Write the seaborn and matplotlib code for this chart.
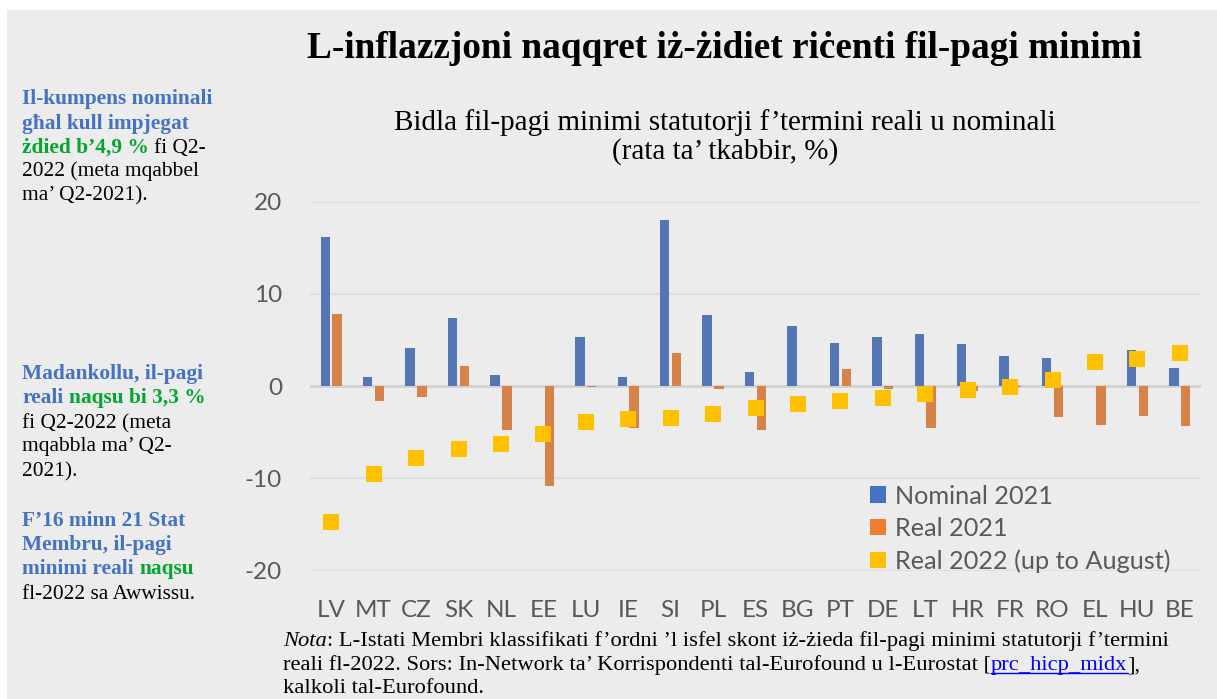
#!/usr/bin/env python3
"""
Minimum wage growth chart (nominal vs real), Maltese version
"""

import numpy as np
import pandas as pd
import matplotlib
matplotlib.use('Agg')
import matplotlib.pyplot as plt
from matplotlib.patches import Patch, Rectangle
from matplotlib.lines import Line2D
import seaborn as sns

# data
countries = ['LV', 'MT', 'CZ', 'SK', 'NL', 'EE', 'LU', 'IE', 'SI', 'PL', 'ES',
             'BG', 'PT', 'DE', 'LT', 'HR', 'FR', 'RO', 'EL', 'HU', 'BE']
nominal_2021 = [16.2, 1.0, 4.1, 7.4, 1.2, 0.0, 5.3, 1.0, 18.0, 7.7, 1.5,
                6.5, 4.7, 5.3, 5.7, 4.6, 3.3, 3.1, 0.0, 3.9, 2.0]
real_2021 = [7.8, -1.6, -1.2, 2.2, -4.8, -10.8, -0.1, -4.5, 3.6, -0.3, -4.7,
             0.0, 1.9, -0.3, -4.5, -0.5, -0.1, -3.3, -4.2, -3.2, -4.3]
real_2022 = [-14.7, -9.5, -7.8, -6.8, -6.3, -5.2, -3.9, -3.6, -3.4, -3.0, -2.4,
             -1.9, -1.6, -1.3, -0.8, -0.4, -0.1, 0.7, 2.6, 2.9, 3.6]
series_names = ['Nominal 2021', 'Real 2021', 'Real 2022 (up to August)']
y_ticks = [-20, -10, 0, 10, 20]

BLUE = '#4472C4'
ORANGE = '#ED7D31'
YELLOW = '#FFC000'
GREEN = '#00A82D'
BG = '#ECECEC'
TICK_GREY = '#595959'

W, H = 1217, 699
SERIF = 'Liberation Serif'
SANS = 'Lato'

sns.set_style('white')
plt.rcParams['axes.unicode_minus'] = False
plt.rcParams['text.color'] = 'black'
plt.rcParams['font.family'] = [SANS, 'DejaVu Sans']

fig = plt.figure(figsize=(W / 100, H / 100), dpi=100, facecolor='white')
# grey panel with the white margin on left/top
fig.patches.append(Rectangle((7 / W, 0), 1, 1 - 10 / H, transform=fig.transFigure,
                             facecolor=BG, edgecolor='none', zorder=-10))


def px(x, y):
    """pixel coords (origin top-left) -> figure fraction"""
    return x / W, 1 - y / H


ax_left, ax_right, ax_top, ax_bot = 310, 1201, 201.7, 570.7
ax = fig.add_axes([ax_left / W, 1 - ax_bot / H, (ax_right - ax_left) / W, (ax_bot - ax_top) / H])
ax.set_facecolor(BG)

bars = pd.DataFrame({
    'country': countries * 2,
    'value': nominal_2021 + real_2021,
    'series': [series_names[0]] * len(countries) + [series_names[1]] * len(countries),
})

sns.barplot(data=bars, x='country', y='value', hue='series', order=countries,
            hue_order=series_names[:2], palette=[BLUE, ORANGE], width=0.56, gap=0.2,
            errorbar=None, legend=False, linewidth=0, ax=ax, zorder=2)
sns.stripplot(x=countries, y=real_2022, order=countries, jitter=False, marker='s',
              size=11.5, color=YELLOW, linewidth=0, ax=ax, zorder=4)

ax.set_xlim(-0.5, len(countries) - 0.5)
ax.set_ylim(-20, 20)
ax.set_yticks(y_ticks)
ax.set_yticklabels([str(t) for t in y_ticks])
ax.set_xlabel('')
ax.set_ylabel('')
ax.grid(axis='y', color='#DEDEDE', linewidth=1.5)
ax.grid(axis='x', visible=False)
ax.set_axisbelow(True)
ax.axhline(0, color='#D2D2D2', linewidth=2, zorder=1)
for s in ax.spines.values():
    s.set_visible(False)
ax.tick_params(axis='both', length=0, labelsize=17.5, labelcolor=TICK_GREY)
ax.tick_params(axis='y', pad=20)
ax.tick_params(axis='x', pad=21)

handles = [Patch(facecolor=BLUE, edgecolor='none'),
           Patch(facecolor=ORANGE, edgecolor='none'),
           Line2D([], [], marker='s', linestyle='none', markersize=11.5,
                  markerfacecolor=YELLOW, markeredgewidth=0)]
leg = ax.legend(handles, series_names, loc='upper left', bbox_to_anchor=(0.628, 0.233),
                frameon=False, fontsize=18.2, labelcolor=TICK_GREY, handlelength=0.65,
                handleheight=0.65, handletextpad=0.35, labelspacing=0.36,
                borderpad=0, borderaxespad=0)

# titles
fig.text(*px(725, 49), 'L-inflazzjoni naqqret iż-żidiet riċenti fil-pagi minimi',
         family=SERIF, fontsize=26.8, fontweight='bold', ha='center', va='center',
         color='black')
fig.text(*px(725, 137), 'Bidla fil-pagi minimi statutorji f’termini reali u nominali\n'
         '(rata ta’ tkabbir, %)', family=SERIF, fontsize=21, ha='center', va='center',
         linespacing=1.1, color='black')

renderer = fig.canvas.get_renderer()


def text_width(s, **kw):
    t = fig.text(0, 0, s, **kw)
    w = t.get_window_extent(renderer).width
    t.remove()
    return w


def draw_runs(x, y, runs, size, family=SERIF):
    """draw one line made of (text, color, weight, style) pieces, y is baseline in px"""
    space = text_width('x x', family=family, fontsize=size) - text_width('xx', family=family, fontsize=size)
    cur = x
    out = []
    for s, color, weight, style in runs:
        lead = s.startswith(' ')
        s = s.strip(' ')
        if lead:
            cur += space
        t = fig.text(*px(cur, y), s, color=color, fontweight=weight, fontstyle=style,
                     family=family, fontsize=size, va='baseline')
        bb = t.get_window_extent(renderer)
        out.append((t, cur, cur + bb.width))
        cur += bb.width
    return out


side_size = 15.4
B, N = 'bold', 'normal'
side_lines = [
    (104, [('Il-kumpens nominali', BLUE, B, N)]),
    (129, [('għal kull impjegat', BLUE, B, N)]),
    (153, [('żdied b’4,9 %', GREEN, B, N), (' fi Q2-', 'black', N, N)]),
    (176, [('2022 (meta mqabbel', 'black', N, N)]),
    (200, [('ma’ Q2-2021).', 'black', N, N)]),
    (379, [('Madankollu, il-pagi', BLUE, B, N)]),
    (403, [('reali', BLUE, B, N), (' naqsu bi 3,3 %', GREEN, B, N)]),
    (428, [('fi Q2-2022 (meta', 'black', N, N)]),
    (451, [('mqabbla ma’ Q2-', 'black', N, N)]),
    (476, [('2021).', 'black', N, N)]),
    (526, [('F’16 minn 21 Stat', BLUE, B, N)]),
    (550, [('Membru, il-pagi', BLUE, B, N)]),
    (574, [('minimi reali', BLUE, B, N), (' naqsu', GREEN, B, N)]),
    (599, [('fl-2022 sa Awwissu.', 'black', N, N)]),
]
for y, runs in side_lines:
    draw_runs(22, y, runs, side_size)

# footnote
foot_size = 16.2
draw_runs(283, 646, [('Nota', 'black', N, 'italic'),
                     (': L-Istati Membri klassifikati f’ordni ’l isfel skont iż-żieda fil-pagi minimi statutorji f’termini', 'black', N, N)],
          foot_size)
runs2 = draw_runs(283, 670, [('reali fl-2022. Sors: In-Network ta’ Korrispondenti tal-Eurofound u l-Eurostat [', 'black', N, N),
                             ('prc_hicp_midx', '#0000FF', N, N),
                             ('],', 'black', N, N)], foot_size)
_, x0, x1 = runs2[1]
fig.add_artist(Line2D([x0 / W, x1 / W], [1 - 673 / H, 1 - 673 / H], color='#0000FF',
                      linewidth=1, transform=fig.transFigure))
draw_runs(283, 693, [('kalkoli tal-Eurofound.', 'black', N, N)], foot_size)

fig.savefig('out.png', dpi=100, facecolor=fig.get_facecolor())
